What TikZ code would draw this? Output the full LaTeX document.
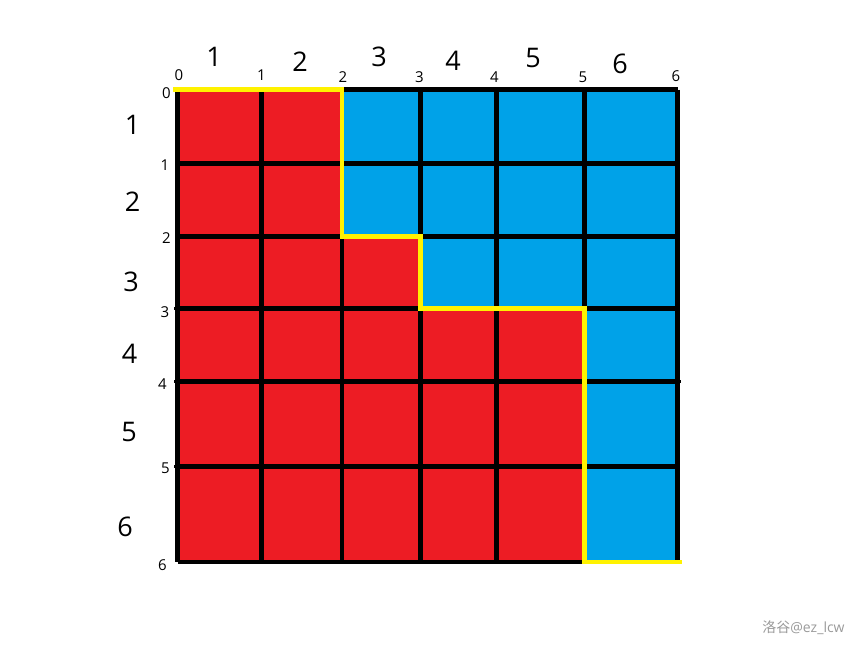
\documentclass[tikz,border=0pt]{standalone}
\usepackage{fontspec}
\setmainfont{Open Sans}
\newfontfamily\cjkfont{Noto Sans CJK SC}
\definecolor{pred}{HTML}{ED1C24}
\definecolor{pblue}{HTML}{00A2E8}
\definecolor{pyellow}{HTML}{FFF200}
\definecolor{wm}{HTML}{9A9A9A}
\tikzset{
  gridline/.style={line width=4.5pt, black},
  pathline/.style={line width=4.5pt, pyellow, line cap=rect, line join=miter},
  big/.style={inner sep=0pt, font=\fontsize{27}{27}\selectfont},
  small/.style={inner sep=0pt, font=\fontsize{15}{15}\selectfont},
}
\begin{document}
\begin{tikzpicture}[x=1pt,y=-1pt]
\useasboundingbox (0,0) rectangle (859,648);
% grid coordinates
\coordinate (x0) at (177.5,0); \coordinate (x1) at (261.5,0); \coordinate (x2) at (342,0);
\coordinate (x3) at (420.5,0); \coordinate (x4) at (496.7,0); \coordinate (x5) at (584.5,0);
\coordinate (x6) at (677.5,0);
\coordinate (y0) at (0,89.7); \coordinate (y1) at (0,163.3); \coordinate (y2) at (0,236.7);
\coordinate (y3) at (0,308.5); \coordinate (y4) at (0,381.7); \coordinate (y5) at (0,466.5);
\coordinate (y6) at (0,562);
% fills
\fill[pred] (x0|-y0) -- (x2|-y0) -- (x2|-y2) -- (x3|-y2) -- (x3|-y3) -- (x5|-y3) -- (x5|-y6) -- (x0|-y6) -- cycle;
\fill[pblue] (x2|-y0) -- (x6|-y0) -- (x6|-y6) -- (x5|-y6) -- (x5|-y3) -- (x3|-y3) -- (x3|-y2) -- (x2|-y2) -- cycle;
% grid lines
\foreach \i in {0,...,6} {
  \draw[gridline] (x\i|-y0) -- (x\i|-y6);
  \draw[gridline] (x0|-y\i) -- (x6|-y\i);
}
% small stubs
\foreach \i in {3,4,5} { \draw[line width=2.5pt] ([xshift=-3.5pt]x0|-y\i) -- (x0|-y\i); }
\draw[line width=2.5pt] (x6|-y4) -- ([xshift=3.5pt]x6|-y4);
% yellow path
\draw[pathline] ([xshift=-2pt]x0|-y0) -- (x2|-y0) -- (x2|-y2) -- (x3|-y2) -- (x3|-y3) -- (x5|-y3) -- (x5|-y6) -- ([xshift=2pt]x6|-y6);
% top big labels
\node[big] (t1) at (214,57) {1};
\node[big] (t2) at (300,62) {2};
\node[big] (t3) at (379,57) {3};
\node[big] (t4) at (453,61) {4};
\node[big] (t5) at (533,58) {5};
\node[big] (t6) at (620,63.5) {6};
% top small labels
\node[small] (s0) at (179,75) {0};
\node[small] (s1) at (261.5,75.5) {1};
\node[small] (s2) at (343,77.5) {2};
\node[small] (s3) at (419.5,77.5) {3};
\node[small] (s4) at (494.5,77.5) {4};
\node[small] (s5) at (583,77.5) {5};
\node[small] (s6) at (676,76) {6};
% left small labels
\node[small] (l0) at (166.5,93) {0};
\node[small] (l1) at (165,165) {1};
\node[small] (l2) at (166.5,238.5) {2};
\node[small] (l3) at (165,312.5) {3};
\node[small] (l4) at (162.5,384.5) {4};
\node[small] (l5) at (165.5,468.5) {5};
\node[small] (l6) at (162.5,565.5) {6};
% left big labels
\node[big] (b1) at (132.5,125) {1};
\node[big] (b2) at (132.5,201.5) {2};
\node[big] (b3) at (131,281.5) {3};
\node[big] (b4) at (129.5,353.5) {4};
\node[big] (b5) at (129,431.5) {5};
\node[big] (b6) at (125,526.5) {6};
% watermark
\node[inner sep=0pt, text=wm, font=\fontsize{14}{14}\selectfont] (wmk) at (803.5,628) {{\cjkfont 洛谷}@ez\_lcw};
\end{tikzpicture}
\end{document}
